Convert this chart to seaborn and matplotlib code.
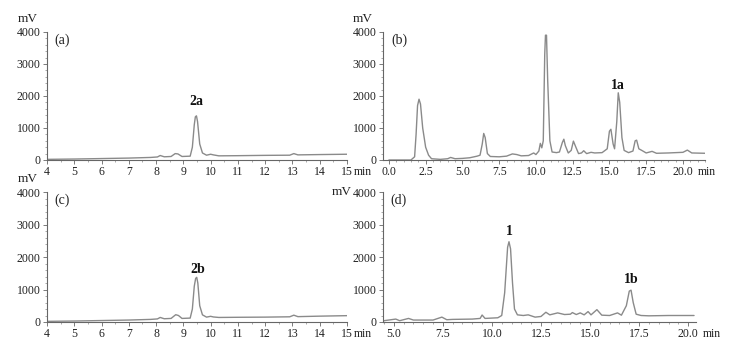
import numpy as np
import pandas as pd
import seaborn as sns
import matplotlib.pyplot as plt
from matplotlib.ticker import MultipleLocator

# DATA -------------------------------------------------------------------------------
# (a) chromatogram, peak 2a
t_a = [4.0, 5.0, 6.0, 7.0, 7.8, 8.05, 8.15, 8.3, 8.55, 8.7, 8.8, 8.95, 9.25, 9.33, 9.4,
       9.44, 9.48, 9.52, 9.6, 9.7, 9.85, 10.0, 10.1, 10.3, 11.0, 12.0, 12.9, 13.05, 13.2,
       14.0, 15.0]
mv_a = [20, 30, 45, 60, 80, 95, 140, 100, 110, 200, 190, 110, 120, 400, 1100,
        1350, 1380, 1200, 500, 220, 150, 180, 160, 130, 135, 145, 150, 200, 160,
        170, 180]

# (b) chromatogram, peak 1a
t_b = [0.0, 1.5, 1.75, 1.85, 1.95, 2.05, 2.15, 2.3, 2.5, 2.7, 2.9, 3.5, 4.0, 4.2, 4.5, 5.0,
       5.5, 6.0, 6.2, 6.35, 6.45, 6.55, 6.7, 6.9, 7.5, 8.0, 8.4, 8.7, 9.0, 9.5, 9.85, 10.0,
       10.2, 10.3, 10.4, 10.5, 10.6, 10.65, 10.72, 10.8, 10.95, 11.1, 11.4, 11.6, 11.8, 11.9,
       12.0, 12.2, 12.4, 12.55, 12.7, 12.9, 13.1, 13.25, 13.45, 13.75, 14.0, 14.5, 14.85, 15.0,
       15.1, 15.25, 15.35, 15.5, 15.6, 15.7, 15.85, 16.0, 16.3, 16.6, 16.75, 16.85, 17.0, 17.2,
       17.5, 17.9, 18.2, 19.0, 20.0, 20.3, 20.6, 21.5]
mv_b = [0, 0, 100, 800, 1700, 1900, 1750, 1000, 400, 150, 40, 20, 40, 80, 40, 50,
        70, 120, 150, 500, 830, 700, 200, 110, 100, 120, 190, 170, 130, 140, 220, 170,
        280, 520, 380, 600, 3300, 3900, 3900, 2500, 600, 250, 230, 250, 550, 650,
        450, 220, 300, 590, 420, 200, 220, 290, 200, 240, 220, 230, 350, 900,
        960, 500, 350, 1200, 2100, 1800, 700, 300, 230, 280, 600, 620, 350, 300,
        220, 270, 210, 220, 240, 310, 220, 210]

# (c) chromatogram, peak 2b
t_c = [4.0, 5.0, 6.0, 7.0, 7.8, 8.05, 8.15, 8.3, 8.55, 8.72, 8.82, 8.95, 9.25, 9.33, 9.4,
       9.45, 9.49, 9.53, 9.6, 9.7, 9.85, 10.0, 10.1, 10.3, 11.0, 12.0, 12.9, 13.05, 13.2,
       14.0, 15.0]
mv_c = [20, 30, 45, 60, 80, 95, 140, 100, 110, 225, 200, 110, 120, 400, 1100,
        1340, 1375, 1200, 500, 220, 150, 175, 155, 140, 145, 150, 160, 210, 165,
        180, 195]

# (d) chromatogram, peaks 1 and 1b
t_d = [4.5, 5.1, 5.3, 5.75, 6.0, 6.5, 7.0, 7.45, 7.7, 8.0, 9.0, 9.4, 9.5, 9.65, 10.3, 10.5,
       10.65, 10.8, 10.87, 10.95, 11.05, 11.15, 11.3, 11.6, 11.85, 12.2, 12.5, 12.75, 12.95,
       13.35, 13.7, 14.0, 14.1, 14.3, 14.5, 14.7, 14.9, 15.05, 15.35, 15.6, 16.0, 16.4, 16.6,
       16.85, 17.0, 17.09, 17.2, 17.35, 17.6, 18.0, 19.0, 20.3]
mv_d = [40, 90, 40, 110, 60, 60, 60, 150, 70, 80, 90, 110, 215, 110, 130, 200,
        900, 2300, 2470, 2250, 1200, 400, 220, 200, 220, 150, 170, 300, 220,
        280, 230, 240, 290, 230, 280, 220, 320, 220, 380, 210, 200, 280, 210,
        500, 950, 980, 600, 240, 200, 190, 200, 200]

panels = {
    'a': dict(t=t_a, mv=mv_a, xlim=(4, 15), ticks=range(4, 16), minor=0.5,
              peaks=[('2a', 9.48, 1830)], last='15', rect=[47, 32, 300, 128]),
    'b': dict(t=t_b, mv=mv_b, xlim=(-0.4, 21.5), ticks=np.arange(0, 20.1, 2.5), minor=0.5,
              peaks=[('1a', 15.55, 2340)], last='20.0', rect=[383, 32, 322, 128]),
    'c': dict(t=t_c, mv=mv_c, xlim=(4, 15), ticks=range(4, 16), minor=0.5,
              peaks=[('2b', 9.52, 1610)], last='15', rect=[47, 192, 300, 130]),
    'd': dict(t=t_d, mv=mv_d, xlim=(4.45, 20.4), ticks=np.arange(5, 20.1, 2.5), minor=0.5,
              peaks=[('1', 10.87, 2770), ('1b', 17.09, 1310)], last='20.0', rect=[383, 192, 313, 130]),
}

# PLOT -------------------------------------------------------------------------------
sns.set_style("ticks")
plt.rcParams['font.family'] = ['Liberation Serif', 'DejaVu Serif']

W, H = 737, 346
fig = plt.figure(figsize=(W / 100, H / 100), dpi=100)

for key, p in panels.items():
    l, t, w, h = p['rect']
    ax = fig.add_axes([l / W, (H - t - h) / H, w / W, h / H])
    df = pd.DataFrame({'time': p['t'], 'mV': p['mv']})
    sns.lineplot(data=df, x='time', y='mV', ax=ax, color='#8a8a8a', linewidth=1.0)
    ax.set_xlim(*p['xlim'])
    ax.set_ylim(0, 4000)
    ax.set_xlabel('')
    ax.set_ylabel('')
    sns.despine(ax=ax)
    for s in ['left', 'bottom']:
        ax.spines[s].set_color('#666666')
        ax.spines[s].set_linewidth(0.8)

    ax.set_yticks([0, 1000, 2000, 3000, 4000])
    ax.yaxis.set_minor_locator(MultipleLocator(200))
    ax.set_xticks(list(p['ticks']))
    if key in ('b', 'd'):
        ax.set_xticklabels([f'{v:.1f}' for v in p['ticks']])
    else:
        ax.set_xticklabels([str(v) for v in p['ticks']])
    ax.xaxis.set_minor_locator(MultipleLocator(p['minor']))
    ax.tick_params(which='major', length=3, width=0.6, color='#666666',
                   labelsize=8.5, pad=1.5, labelcolor='#222222')
    ax.tick_params(which='minor', length=1.5, width=0.5, color='#888888')

    ax.text(0.025, 0.99, f'({key})', transform=ax.transAxes, ha='left', va='top',
            fontsize=10, color='#222222')
    for lab, x, y in p['peaks']:
        ax.text(x, y, lab, ha='center', va='center', fontsize=10, fontweight='bold',
                color='#111111')

    # "min" after the last x tick label
    ax.annotate('min', xy=(float(p['last']), 0), xycoords=('data', 'axes fraction'),
                xytext=(len(p['last']) * 2.8 - 0.5, -4.5), textcoords='offset points',
                ha='left', va='top', fontsize=8.5, color='#222222')

    # "mV" unit label
    if key == 'd':
        ax.text(-0.1, 1.0, 'mV', transform=ax.transAxes, ha='right', va='center',
                fontsize=9.5, color='#222222')
    else:
        ax.text(-0.063, 1.055, 'mV', transform=ax.transAxes, ha='center', va='bottom',
                fontsize=9.5, color='#222222')

fig.savefig('out.png', dpi=100)
